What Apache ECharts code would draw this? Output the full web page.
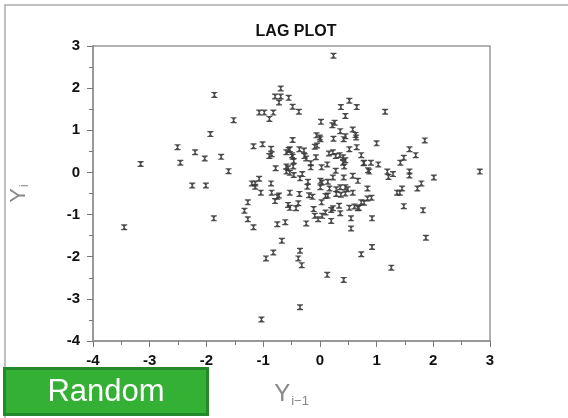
<!DOCTYPE html>
<html>
<head>
<meta charset="utf-8">
<script src="https://cdn.jsdelivr.net/npm/echarts@6/dist/echarts.min.js"></script>
<style>html,body{margin:0;padding:0;background:#fff}#c{width:568px;height:418px}</style>
</head>
<body>
<div id="c"></div>
<script>
// Lag plot data: previous value Y(i-1) and current value Y(i)
const prevVals = [
-1.86,-1.93,-2.51,-2.20,-2.03,-3.16,-2.46,-2.25,-2.01,-1.87,-3.45,
-0.69,-0.79,-0.69,-0.55,-0.72,-1.07,-0.98,-0.82,-0.89,-1.52,-1.17,-1.01,-0.86,-0.89,-0.85,-0.55,-1.74,-0.78,-0.59,-0.59,-1.61,-1.07,-1.20,-1.14,-1.14,-1.04,-0.86,-0.85,-0.72,
0.24,-0.48,-0.37,0.52,0.37,0.65,0.45,0.02,0.22,0.26,0.36,0.45,0.42,0.58,0.63,0.64,0.24,-0.48,-0.06,0.00,0.01,-0.09,-0.05,0.65,0.52,0.73,0.77,-0.53,-0.59,-0.36,-0.28,-0.48,-0.46,-0.27,-0.24,-0.07,-0.16,-0.16,0.16,0.23,0.28,0.35,0.41,0.45,0.41,0.43,0.03,0.13,-0.47,-0.46,-0.56,-0.53,0.28,-0.35,-0.31,-0.21,-0.22,0.01,0.04,0.01,0.14,0.23,0.42,0.58,0.67,0.17,0.29,0.36,0.45,0.49,-0.53,-0.36,-0.19,-0.13,0.10,0.14,0.29,0.37,0.45,0.58,-0.49,
-1.27,-1.33,-1.27,-1.17,-0.75,-0.61,-0.67,-0.82,-0.95,-1.03,-0.53,-0.79,-0.75,
-0.38,-0.42,-0.56,0.03,-0.11,-0.09,-0.03,0.04,0.10,0.20,0.23,0.34,0.36,0.52,0.61,0.67,0.73,0.20,0.55,0.55,-0.24,-0.35,-0.38,-0.32,0.13,0.42,0.73,-0.35,
1.15,1.85,1.00,1.58,1.69,1.48,1.42,0.78,0.90,1.03,0.85,0.87,1.19,1.21,1.29,1.58,1.58,2.01,2.82,0.84,1.79,1.72,1.45,1.41,1.36,0.91,0.84,0.78,0.69,1.48,1.82,0.92,1.87,0.92,1.26
];
const currVals = [
1.84,0.91,0.60,0.48,0.33,0.20,0.23,-0.31,-0.31,-1.09,-1.30,
1.99,1.80,1.80,1.77,1.66,1.42,1.42,1.42,1.27,1.24,0.62,0.67,0.56,0.39,0.43,0.53,0.37,0.10,0.14,0.02,0.03,-0.15,-0.26,-0.26,-0.34,-0.48,-0.26,-0.48,-0.55,
2.77,1.56,1.44,1.70,1.55,1.55,1.34,1.20,1.12,1.18,0.98,0.86,0.79,1.02,0.89,0.83,0.80,0.77,0.88,0.83,0.79,0.61,0.64,0.60,0.55,0.41,0.22,0.55,0.48,0.55,0.52,0.37,0.27,0.39,0.33,0.36,0.22,0.12,0.45,0.48,0.39,0.41,0.36,0.29,0.23,0.14,0.12,0.19,0.14,-0.06,0.10,-0.01,0.04,-0.14,-0.04,-0.22,-0.34,-0.20,-0.24,-0.35,-0.22,-0.12,-0.12,-0.08,-0.20,-0.38,-0.40,-0.35,-0.35,-0.40,-0.48,-0.51,-0.54,-0.58,-0.56,-0.55,-0.51,-0.53,-0.50,-0.48,0.41,
-0.71,-0.91,-1.11,-1.30,-1.23,-1.18,-1.62,-1.90,-2.04,-3.49,-0.84,-0.68,-0.58,
-0.73,-0.85,-0.77,-0.71,-0.87,-1.03,-1.11,-1.03,-0.95,-0.89,-0.85,-0.79,-0.97,-0.84,-0.81,-0.85,-0.71,-1.15,-1.09,-1.33,-1.21,-1.86,-2.04,-2.20,-2.43,-2.55,-1.94,-3.20,
1.44,0.76,0.69,0.55,0.41,0.35,0.23,0.23,0.23,0.19,0.05,0.02,0.02,-0.11,-0.04,0.02,-0.07,-0.12,0.02,-0.38,-0.26,-0.38,-0.38,-0.48,-0.48,-0.60,-0.62,-0.72,-0.84,-0.80,-0.90,-1.09,-1.55,-1.77,-2.26
];
const xTicks = { min: -4, max: 3, step: 1 };
const yTicks = { min: -4, max: 3, step: 1 };
const titleText = 'LAG PLOT';
const badgeText = 'Random';

const points = prevVals.map((v, i) => [v, currVals[i]]);
const chart = echarts.init(document.getElementById('c'), null, { renderer: 'canvas' });
const tickFont = { color: '#111', fontWeight: 'bold', fontSize: 15, fontFamily: 'Liberation Sans, Arial, sans-serif' };
const markPath = 'path://M0,0L10,0L10,2L8,2L5.8,5L8,8L10,8L10,10L0,10L0,8L2,8L4.2,5L2,2L0,2Z';

chart.setOption({
  animation: false,
  backgroundColor: '#fff',
  title: {
    text: titleText, left: 291, top: 19, textAlign: 'center',
    textStyle: { fontSize: 16, fontWeight: 'bold', color: '#111', fontFamily: 'Liberation Sans, Arial, sans-serif' }
  },
  grid: { left: 91.5, right: 78, top: 46, bottom: 77, show: true, borderColor: '#999', borderWidth: 1.5, backgroundColor: 'transparent' },
  xAxis: {
    type: 'value', min: xTicks.min, max: xTicks.max, interval: xTicks.step,
    axisLine: { show: true, onZero: false, lineStyle: { color: '#999', width: 2 } },
    axisTick: { show: true, length: 6, lineStyle: { color: '#777' } },
    minorTick: { show: true, splitNumber: 2, length: 4, lineStyle: { color: '#777' } },
    splitLine: { show: false },
    axisLabel: Object.assign({ margin: 12 }, tickFont),
    name: '{a|Y}{b|i\u22121}', nameLocation: 'middle', nameGap: 40,
    nameTextStyle: { rich: {
      a: { fontSize: 24, color: '#888', fontFamily: 'Liberation Sans, Arial, sans-serif' },
      b: { fontSize: 13, color: '#888', fontFamily: 'Liberation Sans, Arial, sans-serif', padding: [14, 0, 0, 1] }
    } }
  },
  yAxis: {
    type: 'value', min: yTicks.min, max: yTicks.max, interval: yTicks.step,
    axisLine: { show: true, onZero: false, lineStyle: { color: '#999', width: 2 } },
    axisTick: { show: true, length: 6, lineStyle: { color: '#777' } },
    minorTick: { show: true, splitNumber: 2, length: 4, lineStyle: { color: '#777' } },
    splitLine: { show: false },
    axisLabel: Object.assign({ margin: 13 }, tickFont),
    name: '{a|Y}{b|i}', nameLocation: 'middle', nameGap: 62, nameRotate: 90,
    nameTextStyle: { rich: {
      a: { fontSize: 22, color: '#888', fontFamily: 'Liberation Sans, Arial, sans-serif' },
      b: { fontSize: 12, color: '#888', fontFamily: 'Liberation Sans, Arial, sans-serif', padding: [12, 0, 0, 1] }
    } }
  },
  series: [{
    type: 'scatter', data: points, symbol: markPath, symbolSize: [6, 6],
    itemStyle: { color: '#3a3a3a', opacity: 0.9 }
  }],
  graphic: [
    { type: 'polyline', z: 50, shape: { points: [[5, 418], [5, 5], [568, 5]] }, style: { stroke: '#aaa', lineWidth: 1.5, fill: null } },
    { type: 'rect', z: 100, shape: { x: 4.5, y: 368.5, width: 203, height: 46 }, style: { fill: '#34b034', stroke: '#23892a', lineWidth: 3 } },
    { type: 'text', z: 101, x: 106, y: 392, style: { text: badgeText, fill: '#fff', fontSize: 31, fontFamily: 'Liberation Sans, Arial, sans-serif', align: 'center', verticalAlign: 'middle' } }
  ]
});
</script>
</body>
</html>
